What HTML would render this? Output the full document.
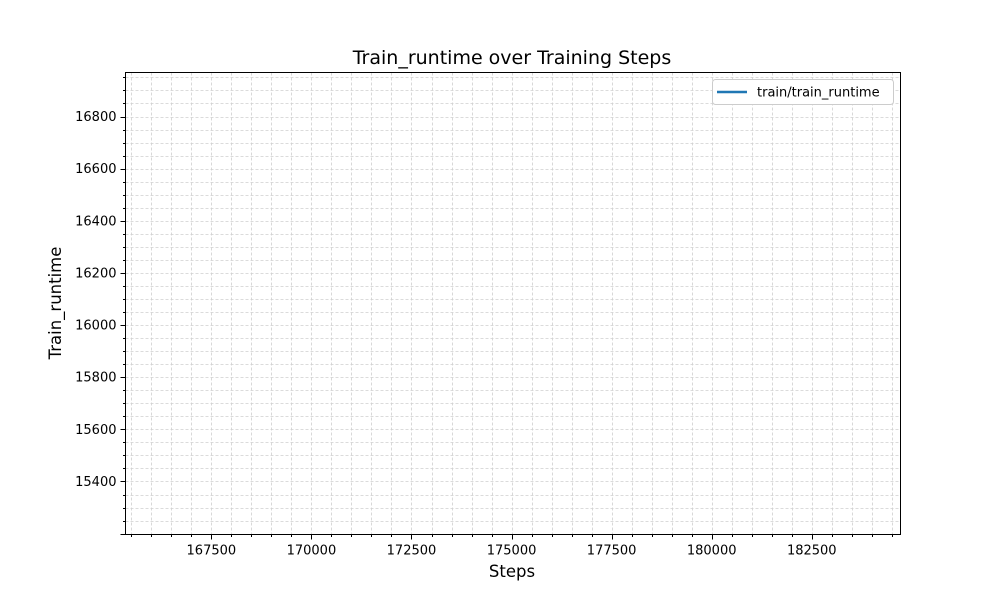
<!DOCTYPE html>
<html><head><meta charset="utf-8"><style>
body{margin:0;background:#fff;}
svg text{font-family:"DejaVu Sans","Liberation Sans",sans-serif;}
</style></head><body>
<svg id="chart" width="1000" height="600" xmlns="http://www.w3.org/2000/svg">
<rect width="1000" height="600" fill="#fff"/>
<g id="grid"></g>
<g id="series"></g>
<rect x="125.5" y="72.5" width="775" height="462" fill="none" stroke="#000" stroke-width="1"/>
<g id="ticks"></g>
<text x="512" y="64" font-size="19" text-anchor="middle">Train_runtime over Training Steps</text>
<text x="512" y="577" font-size="16.5" text-anchor="middle">Steps</text>
<text x="61" y="303" font-size="16.5" text-anchor="middle" transform="rotate(-90 61 303)">Train_runtime</text>
<g>
<rect x="712.5" y="79.5" width="181" height="25" rx="3" fill="#fff" stroke="#ccc"/>
<line x1="717" y1="92" x2="747" y2="92" stroke="#1f77b4" stroke-width="2.5"/>
<text x="757" y="96.5" font-size="13">train/train_runtime</text>
</g>
</svg>
<script>
const steps = [175000];
const runtimes = [16083];
const xTicks = [167500,170000,172500,175000,177500,180000,182500];
const yTicks = [15400,15600,15800,16000,16200,16400,16600,16800];
const X0=125.5,X1=900.5,Y0=72.5,Y1=534.5;
const xmin=165355,xmax=184717,ymin=15196.7,ymax=16968.8;
const sx=v=>X0+(v-xmin)/(xmax-xmin)*(X1-X0);
const sy=v=>Y1-(v-ymin)/(ymax-ymin)*(Y1-Y0);
const NS="http://www.w3.org/2000/svg";
const grid=document.getElementById('grid'),tk=document.getElementById('ticks'),ser=document.getElementById('series');
function ln(p,x1,y1,x2,y2,st,w,dash){const l=document.createElementNS(NS,'line');l.setAttribute('x1',x1);l.setAttribute('y1',y1);l.setAttribute('x2',x2);l.setAttribute('y2',y2);l.setAttribute('stroke',st);l.setAttribute('stroke-width',w);if(dash)l.setAttribute('stroke-dasharray',dash);p.appendChild(l);return l;}
for(let v=Math.ceil(xmin/500)*500;v<=xmax;v+=500){const x=Math.round(sx(v))+0.5;const major=v%2500===0;
const g=ln(grid,x,Y0,x,Y1,'#cfcfcf',0.8,'3,2');


const t=ln(tk,x,Y1,x,Y1+(major?5:2.5),'#000',1);

}
for(let v=Math.ceil(ymin/50)*50;v<=ymax;v+=50){const y=Math.round(sy(v))+0.5;const major=v%200===0;
const g=ln(grid,X0,y,X1,y,'#cfcfcf',0.8,'3,2');


const t=ln(tk,X0-(major?5:2.5),y,X0,y,'#000',1);

}
xTicks.forEach(v=>{const t=document.createElementNS(NS,'text');t.setAttribute('x',sx(v));t.setAttribute('y',Y1+20);t.setAttribute('font-size','13');t.setAttribute('text-anchor','middle');t.textContent=v;


tk.appendChild(t);});
yTicks.forEach(v=>{const t=document.createElementNS(NS,'text');t.setAttribute('x',X0-9);t.setAttribute('y',sy(v)+4.5);t.setAttribute('font-size','13');t.setAttribute('text-anchor','end');t.textContent=v;


tk.appendChild(t);});
const p=document.createElementNS(NS,'path');
p.setAttribute('d',steps.map((s,i)=>(i?'L':'M')+sx(s)+','+sy(runtimes[i])).join(''));
p.setAttribute('fill','none');p.setAttribute('stroke','#1f77b4');p.setAttribute('stroke-width','2');


ser.appendChild(p);
</script>
</body></html>
